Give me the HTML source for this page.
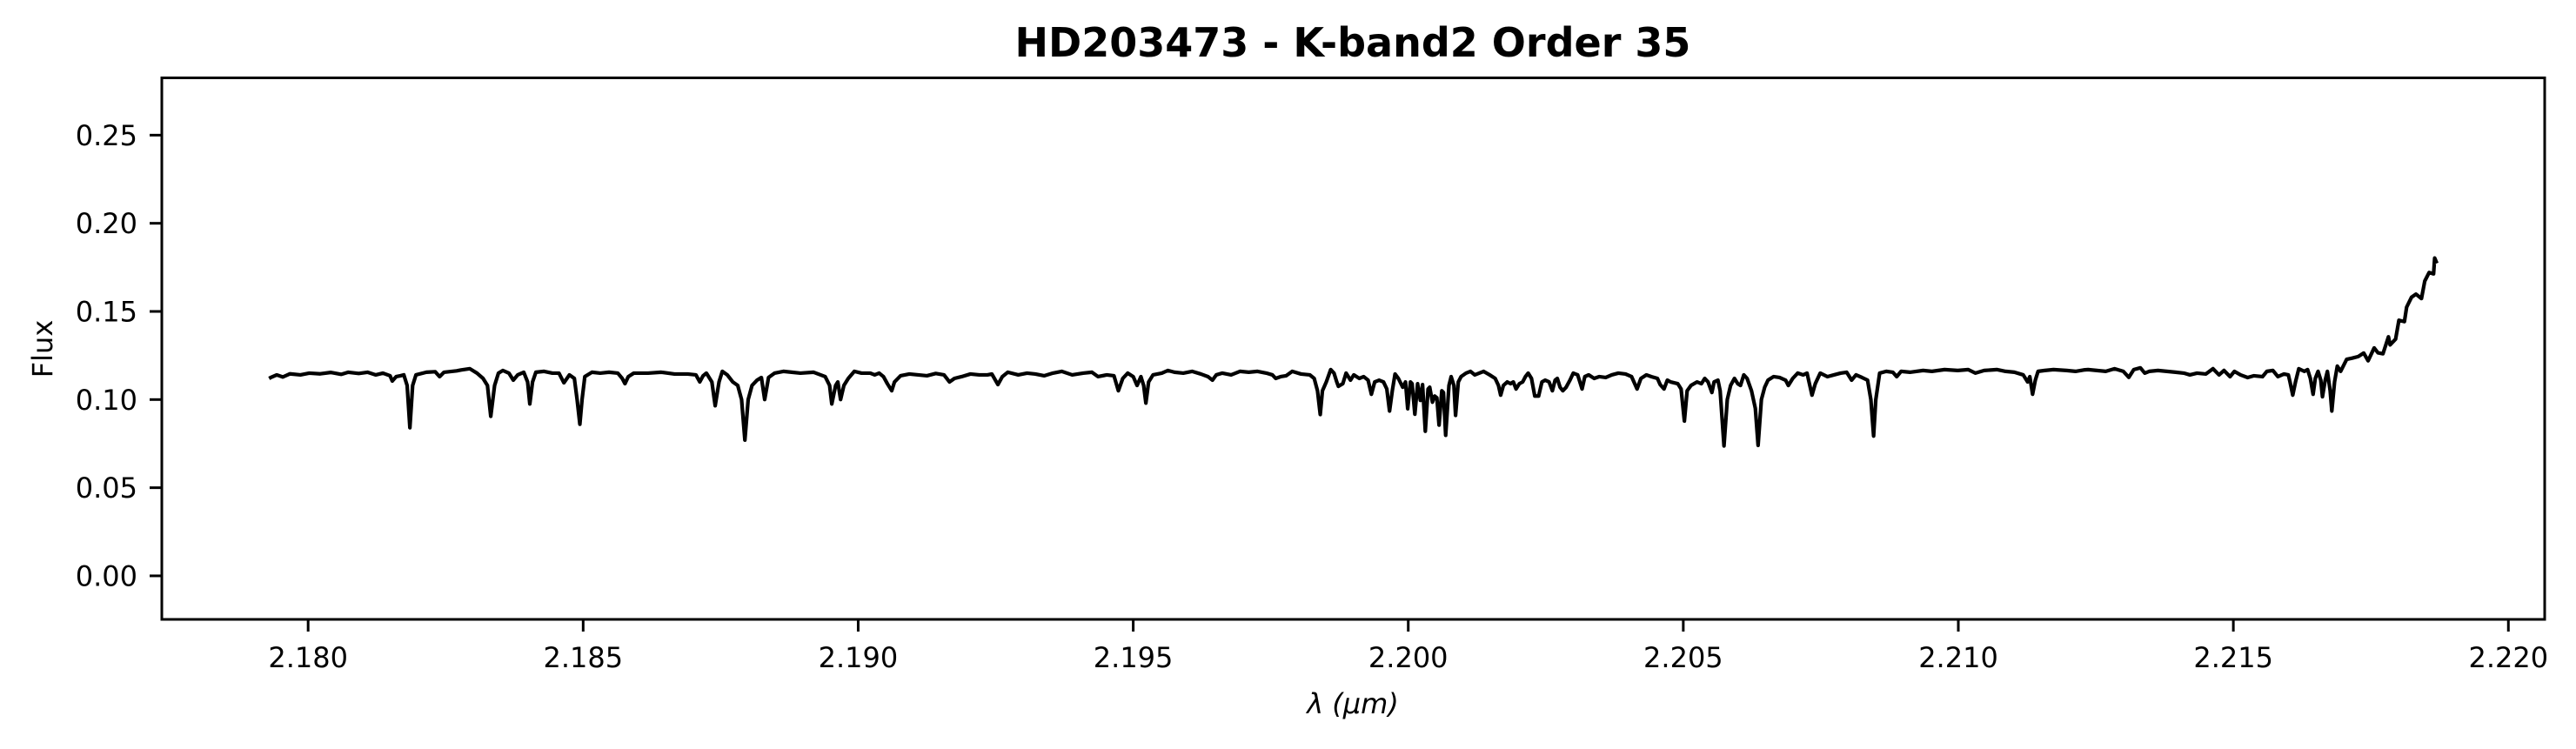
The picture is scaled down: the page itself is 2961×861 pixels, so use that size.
<!DOCTYPE html>
<html><head><meta charset="utf-8"><style>
html,body{margin:0;padding:0;background:#fff;}
svg{display:block;}
text{font-family:"DejaVu Sans","Liberation Sans",sans-serif;fill:#000;}
</style></head><body>
<svg id="chart" width="2961" height="861" viewBox="0 0 2961 861" xmlns="http://www.w3.org/2000/svg">
<rect x="0" y="0" width="2961" height="861" fill="#fff"/>
<text x="1555" y="65" text-anchor="middle" font-size="46" font-weight="bold">HD203473 - K-band2 Order 35</text>
<g id="yticks"></g>
<g id="xticks"></g>
<g id="plot"></g>
<rect x="186" y="89.5" width="2739" height="622.5" fill="none" stroke="#000" stroke-width="3"/>
<text x="1555" y="820" text-anchor="middle" font-size="32" font-style="italic">λ (μm)</text>
<text transform="translate(60,401) rotate(-90)" text-anchor="middle" font-size="32">Flux</text>
</svg>
<script>
const xTicks = [2.180, 2.185, 2.190, 2.195, 2.200, 2.205, 2.210, 2.215, 2.220];
const xTickLabels = ["2.180","2.185","2.190","2.195","2.200","2.205","2.210","2.215","2.220"];
const yTicks = [0.00, 0.05, 0.10, 0.15, 0.20, 0.25];
const yTickLabels = ["0.00","0.05","0.10","0.15","0.20","0.25"];
const wavelength = [
2.17929,2.17932,2.17943,2.17954,2.17967,2.17986,2.18002,2.18022,2.18041,2.18060,2.18073,2.18092,2.18108,2.18123,2.18136,2.18149,2.18153,2.18160,2.18168,2.18174,2.18180,2.18185,2.18190,2.18196,2.18215,2.18231,2.18239,2.18247,2.18270,2.18278,2.18294,2.18307,2.18318,2.18326,2.18332,2.18339,2.18346,2.18354,2.18365,2.18373,2.18381,2.18392,2.18399,2.18403,2.18408,2.18414,2.18429,2.18444,2.18456,2.18465,2.18475,2.18484,2.18489,2.18494,2.18498,2.18503,2.18516,2.18531,2.18547,2.18563,2.18571,2.18576,2.18582,2.18592,2.18618,2.18642,2.18666,2.18690,2.18705,2.18712,2.18718,2.18724,2.18734,2.18740,2.18747,2.18753,2.18762,2.18772,2.18781,2.18788,2.18794,2.18800,2.18807,2.18816,2.18824,2.18830,2.18837,2.18848,2.18864,2.18879,2.18895,2.18919,2.18940,2.18948,2.18952,2.18959,2.18963,2.18968,2.18974,2.18982,2.18993,2.19006,2.19022,
2.19030,2.19038,2.19046,2.19053,2.19061,2.19066,2.19077,2.19093,2.19109,2.19125,2.19141,2.19156,2.19166,2.19175,2.19188,2.19204,2.19220,2.19235,2.19243,2.19254,2.19262,2.19272,2.19291,2.19307,2.19322,2.19338,2.19354,2.19370,2.19389,2.19409,2.19425,2.19436,2.19452,2.19465,2.19473,2.19481,2.19490,2.19500,2.19507,2.19514,2.19519,2.19523,2.19528,2.19536,2.19552,2.19563,2.19575,2.19591,2.19607,2.19623,2.19636,2.19644,2.19651,2.19662,2.19678,2.19694,2.19710,2.19726,2.19742,2.19753,2.19759,2.19768,2.19778,2.19789,2.19805,2.19821,2.19829,2.19835,2.19840,2.19844,2.19851,2.19859,2.19865,2.19870,2.19873,2.19881,2.19887,2.19895,2.19901,2.19911,2.19919,2.19927,2.19933,2.19939,2.19947,2.19955,2.19961,2.19966,2.19971,2.19976,2.19982,2.19990,2.19995,2.19999,2.20004,2.20007,2.20012,2.20017,2.20022,2.20026,2.20031,2.20036,2.20039,2.20044,2.20048,2.20052,2.20056,2.20061,2.20064,2.20068,2.20074,2.20078,2.20083,2.20086,2.20091,2.20096,2.20105,2.20113,2.20121,2.20129,
2.20137,2.20148,2.20158,2.20164,2.20168,2.20173,2.20180,2.20186,2.20191,2.20196,2.20202,2.20208,2.20213,2.20218,2.20224,2.20230,2.20237,2.20243,2.20249,2.20256,2.20262,2.20267,2.20271,2.20276,2.20281,2.20287,2.20294,2.20300,2.20308,2.20316,2.20321,2.20328,2.20338,2.20347,2.20359,2.20370,2.20382,2.20395,2.20406,2.20416,2.20423,2.20433,2.20442,2.20453,2.20458,2.20465,2.20471,2.20477,2.20490,2.20496,2.20502,2.20507,2.20514,2.20525,2.20533,2.20539,2.20545,2.20552,2.20556,2.20563,2.20567,2.20574,2.20580,2.20586,2.20593,2.20599,2.20604,2.20610,2.20616,2.20624,2.20631,2.20636,2.20642,2.20648,2.20654,2.20664,2.20675,2.20686,2.20691,2.20699,2.20708,2.20718,2.20725,2.20730,2.20734,2.20740,2.20749,2.20762,2.20774,2.20786,2.20797,2.20806,2.20814,2.20825,2.20835,2.20841,2.20846,2.20850,2.20857,2.20869,2.20881,2.20888,2.20896,2.20912,2.20936,2.20952,2.20975,2.20999,2.21018,2.21031,2.21047,2.21070,2.21086,2.21102,2.21118,2.21126,2.21130,2.21135,2.21140,2.21145,2.21157,2.21173,2.21197,2.21213,2.21228,
2.21236,2.21252,2.21268,2.21284,2.21300,2.21310,2.21319,2.21331,2.21339,2.21347,2.21363,2.21379,2.21395,2.21410,2.21421,2.21434,2.21450,2.21463,2.21474,2.21483,2.21494,2.21502,2.21513,2.21526,2.21537,2.21553,2.21561,2.21572,2.21581,2.21592,2.21600,2.21603,2.21608,2.21613,2.21619,2.21629,2.21635,2.21640,2.21645,2.21649,2.21654,2.21659,2.21662,2.21667,2.21671,2.21676,2.21679,2.21684,2.21689,2.21695,2.21706,2.21716,2.21727,2.21737,2.21745,2.21756,2.21763,2.21772,2.21782,2.21785,2.21795,2.21801,2.21811,2.21815,2.21824,2.21832,2.21842,2.21848,2.21856,2.21864,2.21866,2.21870
];
const flux = [
0.1120,0.1125,0.1140,0.1128,0.1146,0.1140,0.1150,0.1146,0.1154,0.1143,0.1155,0.1148,0.1155,0.1140,0.1150,0.1135,0.1105,0.1130,0.1135,0.1140,0.1080,0.0840,0.1080,0.1140,0.1155,0.1158,0.1130,0.1155,0.1163,0.1168,0.1175,0.1150,0.1120,0.1080,0.0905,0.1080,0.1150,0.1165,0.1150,0.1110,0.1140,0.1155,0.1100,0.0975,0.1100,0.1155,0.1160,0.1150,0.1150,0.1095,0.1140,0.1120,0.1000,0.0860,0.1000,0.1130,0.1155,0.1150,0.1155,0.1150,0.1120,0.1090,0.1130,0.1150,0.1150,0.1155,0.1145,0.1145,0.1140,0.1100,0.1135,0.1150,0.1100,0.0965,0.1100,0.1160,0.1140,0.1100,0.1080,0.1000,0.0770,0.1000,0.1080,0.1110,0.1125,0.1000,0.1125,0.1150,0.1160,0.1155,0.1150,0.1155,0.1130,0.1080,0.0975,0.1080,0.1100,0.1000,0.1080,0.1120,0.1160,0.1150,0.1150,
0.1140,0.1150,0.1130,0.1090,0.1050,0.1100,0.1135,0.1145,0.1140,0.1135,0.1148,0.1140,0.1100,0.1120,0.1130,0.1145,0.1140,0.1140,0.1145,0.1085,0.1130,0.1155,0.1140,0.1150,0.1145,0.1135,0.1150,0.1160,0.1140,0.1150,0.1155,0.1130,0.1140,0.1135,0.1050,0.1120,0.1150,0.1130,0.1080,0.1130,0.1080,0.0980,0.1100,0.1140,0.1150,0.1165,0.1155,0.1150,0.1160,0.1145,0.1130,0.1110,0.1140,0.1150,0.1140,0.1160,0.1155,0.1160,0.1150,0.1140,0.1120,0.1130,0.1135,0.1160,0.1145,0.1140,0.1120,0.1050,0.0915,0.1050,0.1100,0.1170,0.1150,0.1100,0.1075,0.1090,0.1150,0.1110,0.1140,0.1120,0.1130,0.1110,0.1030,0.1100,0.1110,0.1100,0.1060,0.0935,0.1050,0.1145,0.1120,0.1070,0.1100,0.0948,0.1100,0.1090,0.0917,0.1090,0.0995,0.1085,0.0820,0.1060,0.1070,0.0985,0.1020,0.1010,0.0855,0.1050,0.1040,0.0797,0.1080,0.1130,0.1080,0.0910,0.1100,0.1130,0.1150,0.1160,0.1140,0.1150,
0.1160,0.1140,0.1120,0.1080,0.1025,0.1080,0.1100,0.1090,0.1100,0.1060,0.1090,0.1100,0.1130,0.1150,0.1120,0.1020,0.1020,0.1100,0.1110,0.1100,0.1050,0.1110,0.1120,0.1070,0.1050,0.1070,0.1110,0.1150,0.1140,0.1060,0.1130,0.1140,0.1120,0.1130,0.1125,0.1140,0.1150,0.1145,0.1130,0.1060,0.1120,0.1140,0.1130,0.1120,0.1085,0.1060,0.1110,0.1100,0.1090,0.1060,0.0878,0.1050,0.1080,0.1100,0.1090,0.1120,0.1100,0.1040,0.1100,0.1110,0.1050,0.0737,0.1000,0.1080,0.1120,0.1090,0.1080,0.1140,0.1120,0.1050,0.0950,0.0740,0.1000,0.1070,0.1110,0.1130,0.1125,0.1110,0.1080,0.1120,0.1150,0.1140,0.1150,0.1080,0.1025,0.1090,0.1150,0.1130,0.1140,0.1150,0.1155,0.1110,0.1140,0.1125,0.1110,0.1000,0.0793,0.1000,0.1150,0.1160,0.1155,0.1130,0.1160,0.1155,0.1165,0.1160,0.1170,0.1165,0.1170,0.1150,0.1165,0.1170,0.1160,0.1155,0.1140,0.1100,0.1130,0.1030,0.1110,0.1160,0.1165,0.1170,0.1165,0.1160,0.1168,
0.1170,0.1165,0.1160,0.1175,0.1160,0.1126,0.1170,0.1180,0.1150,0.1160,0.1165,0.1160,0.1155,0.1150,0.1140,0.1150,0.1145,0.1175,0.1140,0.1165,0.1130,0.1160,0.1140,0.1125,0.1135,0.1130,0.1160,0.1165,0.1130,0.1145,0.1140,0.1100,0.1025,0.1100,0.1175,0.1160,0.1170,0.1120,0.1030,0.1120,0.1160,0.1110,0.1016,0.1110,0.1160,0.1050,0.0935,0.1100,0.1190,0.1160,0.1228,0.1235,0.1244,0.1264,0.1220,0.1293,0.1265,0.1260,0.1356,0.1310,0.1343,0.1450,0.1442,0.1524,0.1581,0.1598,0.1573,0.1672,0.1721,0.1713,0.1803,0.1773
];

const NS = "http://www.w3.org/2000/svg";
const L = 186, R = 2925, T = 89.5, B = 712;
const xMin = 2.17734, xMax = 2.22066, yMin = -0.0247, yMax = 0.2825;
function xScale(v){ return L + (v - xMin) / (xMax - xMin) * (R - L); }
function yScale(v){ return B - (v - yMin) / (yMax - yMin) * (B - T); }

const yg = document.getElementById('yticks');
yTicks.forEach((v, i) => {
  const y = yScale(v);
  const ln = document.createElementNS(NS, 'line');
  ln.setAttribute('x1', L - 14); ln.setAttribute('x2', L);
  ln.setAttribute('y1', y); ln.setAttribute('y2', y);
  ln.setAttribute('stroke', '#000'); ln.setAttribute('stroke-width', '3');
  
  
  yg.appendChild(ln);
  const t = document.createElementNS(NS, 'text');
  t.setAttribute('x', L - 28); t.setAttribute('y', y + 11.5);
  t.setAttribute('text-anchor', 'end'); t.setAttribute('font-size', '32');
  t.textContent = yTickLabels[i];
  
  
  yg.appendChild(t);
});

const xg = document.getElementById('xticks');
xTicks.forEach((v, i) => {
  const x = xScale(v);
  const ln = document.createElementNS(NS, 'line');
  ln.setAttribute('x1', x); ln.setAttribute('x2', x);
  ln.setAttribute('y1', B); ln.setAttribute('y2', B + 14);
  ln.setAttribute('stroke', '#000'); ln.setAttribute('stroke-width', '3');
  
  
  xg.appendChild(ln);
  const t = document.createElementNS(NS, 'text');
  t.setAttribute('x', x); t.setAttribute('y', 767);
  t.setAttribute('text-anchor', 'middle'); t.setAttribute('font-size', '32');
  t.textContent = xTickLabels[i];
  
  
  xg.appendChild(t);
});

const pg = document.getElementById('plot');
let d = '';
for (let i = 0; i < wavelength.length; i++) {
  d += (i ? 'L' : 'M') + xScale(wavelength[i]).toFixed(2) + ' ' + yScale(flux[i]).toFixed(2);
}
const path = document.createElementNS(NS, 'path');
path.setAttribute('d', d);
path.setAttribute('fill', 'none');
path.setAttribute('stroke', '#000');
path.setAttribute('stroke-width', '4.2');
path.setAttribute('stroke-linejoin', 'round');


pg.appendChild(path);
</script>
</body></html>
